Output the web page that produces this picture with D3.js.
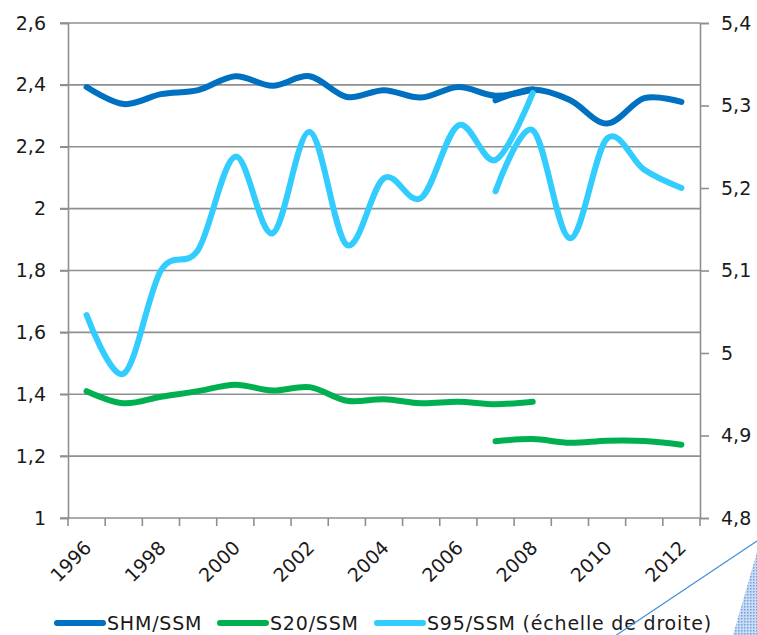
<!DOCTYPE html>
<html>
<head>
<meta charset="utf-8">
<script src="https://cdn.jsdelivr.net/npm/d3@7"></script>
<style>
  html, body { margin: 0; padding: 0; background: #fff; }
  svg { display: block; }
  text { font-family: "DejaVu Sans", sans-serif; fill: #1a1a1a; }
</style>
</head>
<body>
<svg id="chart" width="757" height="635"></svg>
<script>
// ---- data ----
const years = [1996,1997,1998,1999,2000,2001,2002,2003,2004,2005,2006,2007,2008,2009,2010,2011,2012];
const yearLabels = [1996,1998,2000,2002,2004,2006,2008,2010,2012];
const leftTicks = [1, 1.2, 1.4, 1.6, 1.8, 2, 2.2, 2.4, 2.6];
const rightTicks = [4.8, 4.9, 5, 5.1, 5.2, 5.3, 5.4];

// old series 1996-2008, new series 2007-2012 (null = no value)
const shmOld = [2.393, 2.338, 2.370, 2.383, 2.428, 2.397, 2.428, 2.361, 2.383, 2.359, 2.393, 2.365, 2.385, null, null, null, null];
const shmNew = [null, null, null, null, null, null, null, null, null, null, null, 2.350, 2.385, 2.351, 2.275, 2.357, 2.345];
const s20Old = [1.410, 1.371, 1.392, 1.410, 1.431, 1.412, 1.423, 1.379, 1.384, 1.371, 1.376, 1.368, 1.376, null, null, null, null];
const s20New = [null, null, null, null, null, null, null, null, null, null, null, 1.248, 1.255, 1.243, 1.250, 1.249, 1.237];
const s95Old = [5.046, 4.975, 5.100, 5.125, 5.238, 5.145, 5.268, 5.131, 5.212, 5.188, 5.276, 5.234, 5.315, null, null, null, null];
const s95New = [null, null, null, null, null, null, null, null, null, null, null, 5.196, 5.270, 5.139, 5.260, 5.222, 5.200];

const legendItems = ["SHM/SSM", "S20/SSM", "S95/SSM (échelle de droite)"];

// ---- layout ----
const L = 68, R = 700, T = 23, B = 518;
const gridColor = "#8f8f8f";
const cBlue = "#0070C0", cGreen = "#00B050", cLight = "#33CCFF";
const fmt = d => String(d).replace(".", ",");

const svg = d3.select("#chart");

const x = d3.scaleBand().domain(years).range([L, R]).padding(0);
const xc = d => x(d) + x.bandwidth() / 2;
const yL = d3.scaleLinear().domain([1, 2.6]).range([B, T]);
const yR = d3.scaleLinear().domain([4.8, 5.4]).range([B, T]);

// gridlines (left axis)
svg.append("g").selectAll("line").data(leftTicks.filter(v => v !== 1)).join("line")
  .attr("x1", L - 8).attr("x2", R)
  .attr("y1", d => yL(d)).attr("y2", d => yL(d))
  .attr("stroke", gridColor).attr("stroke-width", 1.6);

// left axis
const gLeft = svg.append("g").attr("transform", `translate(${L},0)`)
  .call(d3.axisLeft(yL).tickValues(leftTicks).tickFormat(fmt).tickSize(8).tickPadding(14));
gLeft.select(".domain").attr("stroke", gridColor).attr("stroke-width", 1.6);
gLeft.selectAll(".tick line").attr("stroke", gridColor).attr("stroke-width", 1.6);
gLeft.selectAll("text").attr("font-size", 19).attr("fill", "#1a1a1a")
  .attr("font-family", "DejaVu Sans, sans-serif");

// right axis
const gRight = svg.append("g").attr("transform", `translate(${R},0)`)
  .call(d3.axisRight(yR).tickValues(rightTicks).tickFormat(fmt).tickSize(9).tickPadding(12));
gRight.select(".domain").attr("stroke", gridColor).attr("stroke-width", 1.6);
gRight.selectAll(".tick line").attr("stroke", gridColor).attr("stroke-width", 1.6);
gRight.selectAll("text").attr("font-size", 19).attr("fill", "#1a1a1a")
  .attr("font-family", "DejaVu Sans, sans-serif");

// bottom axis (ticks at band edges)
const edges = years.map(d => x(d)).concat([R]);
const gBottom = svg.append("g");
gBottom.append("line").attr("x1", L - 8).attr("x2", R).attr("y1", B).attr("y2", B)
  .attr("stroke", gridColor).attr("stroke-width", 1.6);
gBottom.selectAll("line.tk").data(edges).join("line").attr("class", "tk")
  .attr("x1", d => d).attr("x2", d => d).attr("y1", B).attr("y2", B + 8)
  .attr("stroke", gridColor).attr("stroke-width", 1.6);
gBottom.selectAll("text").data(yearLabels).join("text")
  .attr("transform", d => `translate(${xc(d) + 6},${B + 31}) rotate(-45)`)
  .attr("text-anchor", "end")
  .attr("font-size", 19)
  .text(d => d);

// lines
const lineL = d3.line().defined(d => d.v != null).x(d => xc(d.year)).y(d => yL(d.v))
  .curve(d3.curveCatmullRom.alpha(0));
const lineR = d3.line().defined(d => d.v != null).x(d => xc(d.year)).y(d => yR(d.v))
  .curve(d3.curveCatmullRom.alpha(0));
const toPts = arr => years.map((year, i) => ({ year, v: arr[i] })).filter(d => d.v != null);

const series = [
  { data: shmOld, color: cBlue, gen: lineL },
  { data: shmNew, color: cBlue, gen: lineL },
  { data: s20Old, color: cGreen, gen: lineL },
  { data: s20New, color: cGreen, gen: lineL },
  { data: s95Old, color: cLight, gen: lineR },
  { data: s95New, color: cLight, gen: lineR }
];
svg.append("g").selectAll("path").data(series).join("path")
  .attr("d", s => s.gen(toPts(s.data)))
  .attr("fill", "none")
  .attr("stroke", s => s.color)
  .attr("stroke-width", 6)
  .attr("stroke-linecap", "round")
  .attr("stroke-linejoin", "round");

// legend
const legendColors = [cBlue, cGreen, cLight];
const legendX = [57, 220, 377];
const lg = svg.append("g");
legendItems.forEach((name, i) => {
  lg.append("line").attr("x1", legendX[i]).attr("x2", legendX[i] + 46)
    .attr("y1", 623).attr("y2", 623)
    .attr("stroke", legendColors[i]).attr("stroke-width", 6).attr("stroke-linecap", "round");
  lg.append("text").attr("x", legendX[i] + 50).attr("y", 630)
    .attr("font-size", 19).attr("letter-spacing", 0.8).text(name);
});

// decorative corner (bottom right)
const defs = svg.append("defs");
const pat = defs.append("pattern").attr("id", "dots").attr("width", 3).attr("height", 3)
  .attr("patternUnits", "userSpaceOnUse");
pat.append("rect").attr("width", 3).attr("height", 3).attr("fill", "#c9dcf3");
pat.append("rect").attr("width", 1.5).attr("height", 1.5).attr("fill", "#6f9fdc");
svg.append("path").attr("d", "M757,552 L733,635 L757,635 Z").attr("fill", "url(#dots)");
svg.append("line").attr("x1", 757).attr("y1", 541).attr("x2", 615).attr("y2", 636)
  .attr("stroke", "#3f8fdc").attr("stroke-width", 1.2);
</script>
</body>
</html>
